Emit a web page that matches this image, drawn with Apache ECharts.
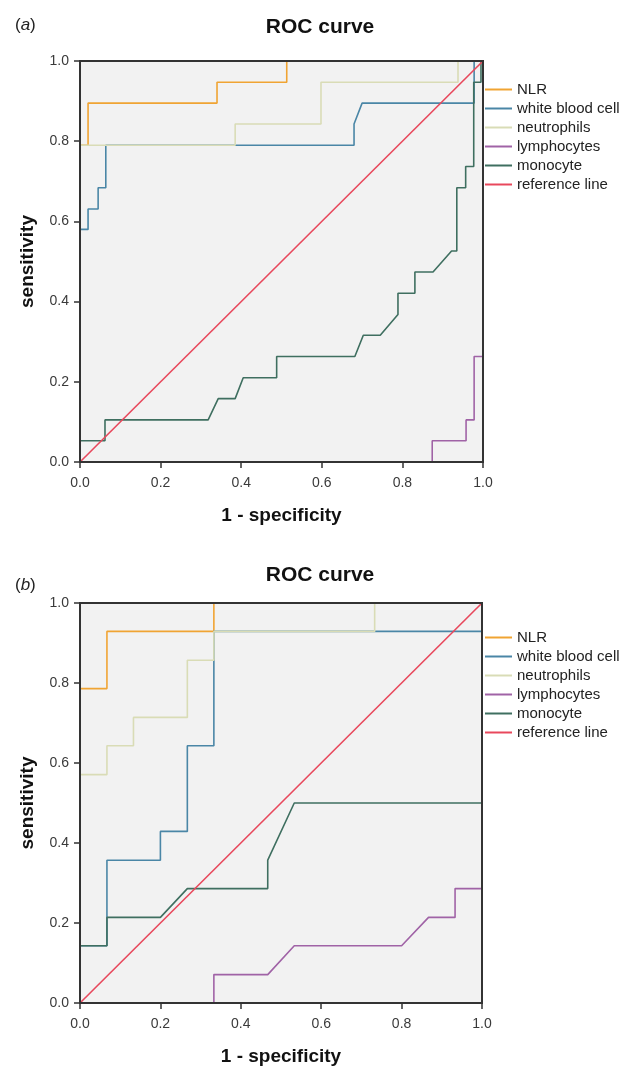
<!DOCTYPE html>
<html lang="en">
<head>
<meta charset="UTF-8">
<title>ROC curve</title>
<script type="text/javascript" src="https://cdn.jsdelivr.net/npm/echarts@6/dist/echarts.min.js"></script>
<style type="text/css">
	html, body { margin:0; padding:0; background:#fff; }
	#main { width:624px; height:1067px; }
</style>
</head>
<body>
<div id="main"></div>
<script type="text/javascript">
	// series names / legend
	var names = ['NLR', 'white blood cell', 'neutrophils', 'lymphocytes', 'monocyte', 'reference line'];
	var colors = ['#f0a433', '#4a86a6', '#d9dcb6', '#a063a6', '#3f6f60', '#e8485c'];
	var ticks = [0, 0.2, 0.4, 0.6, 0.8, 1.0];

	// panel (a): [1 - specificity, sensitivity]
	var nlrA = [[0,0],[0,0.79],[0.02,0.79],[0.02,0.895],[0.34,0.895],[0.34,0.947],[0.513,0.947],[0.513,1],[1,1]];
	var wbcA = [[0,0],[0,0.58],[0.02,0.58],[0.02,0.631],[0.045,0.631],[0.045,0.684],[0.064,0.684],[0.064,0.79],
		[0.68,0.79],[0.68,0.843],[0.70,0.895],[0.978,0.895],[0.978,1],[1,1]];
	var neuA = [[0,0],[0,0.79],[0.385,0.79],[0.385,0.843],[0.598,0.843],[0.598,0.947],[0.938,0.947],[0.938,1],[1,1]];
	var lymA = [[0,0],[0.874,0],[0.874,0.053],[0.958,0.053],[0.958,0.105],[0.978,0.105],[0.978,0.263],[1,0.263],[1,1]];
	var monA = [[0,0],[0,0.053],[0.062,0.053],[0.062,0.105],[0.318,0.105],[0.343,0.158],[0.385,0.158],[0.405,0.21],
		[0.488,0.21],[0.488,0.263],[0.682,0.263],[0.703,0.316],[0.745,0.316],[0.789,0.368],[0.789,0.421],
		[0.831,0.421],[0.831,0.474],[0.876,0.474],[0.922,0.526],[0.935,0.526],[0.935,0.684],[0.957,0.684],
		[0.957,0.737],[0.977,0.737],[0.977,0.947],[0.995,0.947],[0.995,1],[1,1]];

	// panel (b)
	var nlrB = [[0,0],[0,0.786],[0.067,0.786],[0.067,0.929],[0.333,0.929],[0.333,1],[1,1]];
	var wbcB = [[0,0],[0,0.143],[0.067,0.143],[0.067,0.357],[0.2,0.357],[0.2,0.429],[0.267,0.429],[0.267,0.643],
		[0.333,0.643],[0.333,0.857],[0.333,0.929],[1,0.929],[1,1]];
	var neuB = [[0,0],[0,0.571],[0.067,0.571],[0.067,0.643],[0.133,0.643],[0.133,0.714],[0.267,0.714],[0.267,0.857],
		[0.333,0.857],[0.333,0.929],[0.733,0.929],[0.733,1],[1,1]];
	var lymB = [[0,0],[0.333,0],[0.333,0.071],[0.467,0.071],[0.533,0.143],[0.8,0.143],[0.867,0.214],[0.933,0.214],
		[0.933,0.286],[1,0.286],[1,1]];
	var monB = [[0,0],[0,0.143],[0.067,0.143],[0.067,0.214],[0.2,0.214],[0.267,0.286],[0.467,0.286],[0.467,0.357],
		[0.533,0.5],[1,0.5],[1,1]];
	var refLine = [[0,0],[1,1]];

	var panels = [[nlrA, wbcA, neuA, lymA, monA, refLine], [nlrB, wbcB, neuB, lymB, monB, refLine]];

	var font = '"Liberation Sans", Arial, sans-serif';

	function makeAxis(gi, isX){
		return {
			type: 'value', gridIndex: gi, min: 0, max: 1, interval: 0.2, z: 10,
			name: isX ? '1 - specificity' : 'sensitivity',
			nameLocation: 'middle',
			nameGap: isX ? 44 : 43,
			nameTextStyle: {fontFamily: font, fontWeight: 'bold', fontSize: 19, color: '#111'},
			axisLine: {show: true, lineStyle: {color: '#333', width: 2}},
			axisTick: {show: true, length: 6, lineStyle: {color: '#333', width: 1.5}},
			axisLabel: {fontFamily: font, fontSize: 14, color: '#3a3a3a', margin: isX ? 14 : 11,
				formatter: function(v){ return v.toFixed(1); }},
			splitLine: {show: false}
		};
	}
	// frame on the top / right sides, drawn above the curves
	function frameAxis(gi, pos){
		return {
			type: 'value', gridIndex: gi, position: pos, min: 0, max: 1, z: 10,
			axisLine: {show: true, onZero: false, lineStyle: {color: '#333', width: 2}},
			axisTick: {show: false}, axisLabel: {show: false}, splitLine: {show: false}
		};
	}

	var series = [];
	panels.forEach(function(list, gi){
		list.forEach(function(pts, i){
			series.push({
				name: names[i], type: 'line', xAxisIndex: gi, yAxisIndex: gi,
				data: pts, symbol: 'none', silent: true, z: i === 5 ? 3 : 2,
				lineStyle: {color: colors[i], width: 1.6},
				itemStyle: {color: colors[i]}
			});
		});
	});

	function makeLegend(top){
		return {
			orient: 'vertical', left: 485, top: top, padding: 0, itemGap: 4,
			icon: 'rect', itemWidth: 27, itemHeight: 2,
			data: names,
			textStyle: {fontFamily: font, fontSize: 15, color: '#222', lineHeight: 15}
		};
	}

	function caption(letter, y){
		return {
			type: 'text', left: 15, top: y,
			style: {text: '{n|(}{i|' + letter + '}{n|)}', rich: {
				n: {fontFamily: font, fontSize: 17, fill: '#222'},
				i: {fontFamily: font, fontSize: 17, fontStyle: 'italic', fill: '#222'}
			}}
		};
	}

	var chart = echarts.init(document.getElementById('main'), null, {renderer: 'canvas'});
	chart.setOption({
		animation: false,
		grid: [
			{left: 80, top: 61, width: 403, height: 401, show: true, backgroundColor: '#f2f2f2', borderColor: '#333', borderWidth: 2},
			{left: 80, top: 603, width: 402, height: 402, show: true, backgroundColor: '#f2f2f2', borderColor: '#333', borderWidth: 2}
		],
		xAxis: [makeAxis(0, true), makeAxis(1, true), frameAxis(0, 'top'), frameAxis(1, 'top')],
		yAxis: [makeAxis(0, false), makeAxis(1, false), frameAxis(0, 'right'), frameAxis(1, 'right')],
		legend: [makeLegend(82), makeLegend(630)],
		graphic: [
			{type: 'text', x: 320, y: 27, style: {text: 'ROC curve', fontFamily: font, fontWeight: 'bold', fontSize: 21,
				fill: '#111', align: 'center', verticalAlign: 'middle'}},
			{type: 'text', x: 320, y: 575, style: {text: 'ROC curve', fontFamily: font, fontWeight: 'bold', fontSize: 21,
				fill: '#111', align: 'center', verticalAlign: 'middle'}},
			caption('a', 17),
			caption('b', 577)
		],
		series: series
	});
</script>
</body>
</html>
